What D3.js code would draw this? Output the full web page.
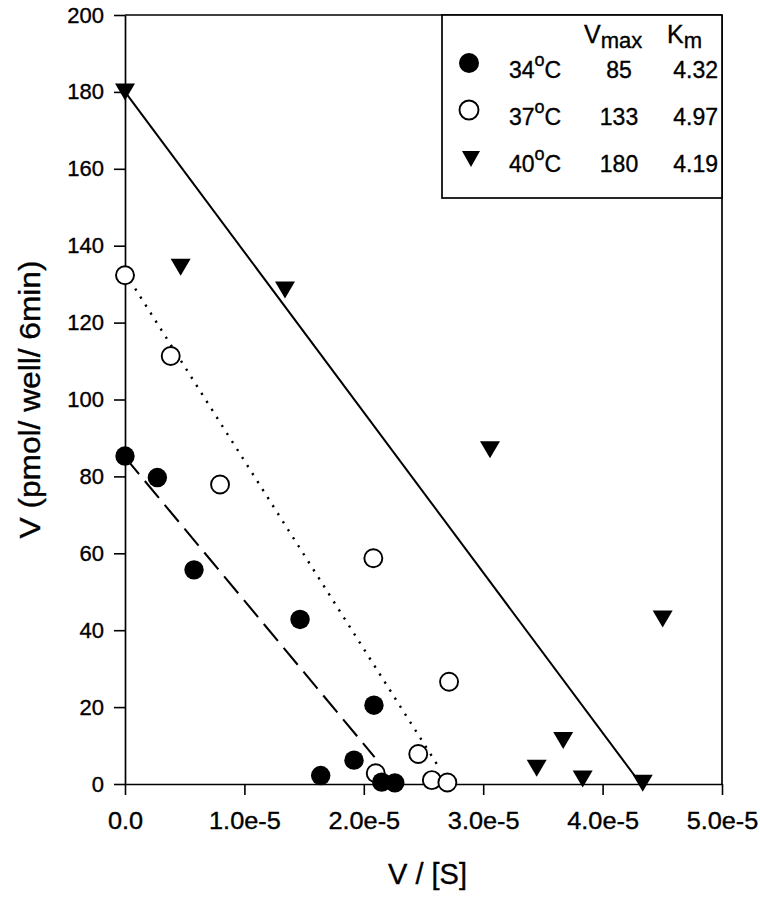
<!DOCTYPE html>
<html><head><meta charset="utf-8">
<script src="https://cdn.jsdelivr.net/npm/d3@7"></script>
<style>
body{margin:0;background:#fff}
svg{display:block;background:#fff}
text{font-family:"Liberation Sans",Arial,Helvetica,sans-serif;fill:#000;stroke:#000;stroke-width:0.35px}
</style>
</head><body>
<svg id="chart" width="760" height="899"></svg>
<script>
// ---- data ----
const xTickValues = [0, 1e-5, 2e-5, 3e-5, 4e-5, 5e-5];
const xTickLabels = ["0.0", "1.0e-5", "2.0e-5", "3.0e-5", "4.0e-5", "5.0e-5"];
const yTickValues = [0, 20, 40, 60, 80, 100, 120, 140, 160, 180, 200];

// 34 °C (filled circles)
const x34 = [0, 2.71e-6, 5.78e-6, 14.66e-6, 20.85e-6, 19.18e-6, 16.39e-6, 21.5e-6, 22.6e-6];
const v34 = [85.3, 79.7, 55.7, 42.8, 20.5, 6.2, 2.2, 0.5, 0.3];
// 37 °C (open circles)
const x37 = [0, 3.83e-6, 7.96e-6, 20.8e-6, 27.14e-6, 24.56e-6, 21.0e-6, 25.7e-6, 27.0e-6];
const v37 = [132.3, 111.3, 77.9, 58.7, 26.6, 7.8, 2.8, 1.0, 0.4];
// 40 °C (filled down triangles)
const x40 = [0, 4.66e-6, 13.4e-6, 30.57e-6, 45.03e-6, 36.7e-6, 34.48e-6, 38.33e-6, 43.36e-6];
const v40 = [180.0, 134.4, 128.5, 86.9, 42.9, 11.3, 4.1, 1.3, 0.2];

// regression lines (start / end)
const fitX34 = [0, 2.09e-5], fitV34 = [85, 7.0];
const fitX37 = [0, 2.64e-5], fitV37 = [133, 3.8];
const fitX40 = [0, 4.32e-5], fitV40 = [180, 0];

// legend
const legendTemps = ["34", "37", "40"];
const legendVmax = ["85", "133", "180"];
const legendKm = ["4.32", "4.97", "4.19"];

const xTitle = "V / [S]";
const yTitle = "V (pmol/ well/ 6min)";

// ---- chart ----
const svg = d3.select("#chart");
const L = 125, R = 722, T = 15, B = 784;
const x = d3.scaleLinear().domain([0, 5e-5]).range([L, R]);
const y = d3.scaleLinear().domain([0, 200]).range([B, T]);

// frame top & right
svg.append("line").attr("x1", L).attr("x2", R).attr("y1", T).attr("y2", T)
  .attr("stroke", "#000").attr("stroke-width", 1.7);
svg.append("line").attr("x1", R).attr("x2", R).attr("y1", T).attr("y2", B)
  .attr("stroke", "#000").attr("stroke-width", 1.7);

// axes
const xAxis = d3.axisBottom(x).tickValues(xTickValues)
  .tickFormat((d, i) => xTickLabels[i]).tickSize(11).tickSizeOuter(0).tickPadding(18);
const gx = svg.append("g").attr("transform", `translate(0,${B})`).call(xAxis);
gx.selectAll("text").attr("font-size", 23).attr("font-family", "Liberation Sans, Arial, sans-serif")
  .attr("transform", "scale(1.1,1)");

const yAxis = d3.axisLeft(y).tickValues(yTickValues).tickSize(11).tickSizeOuter(0).tickPadding(10);
const gy = svg.append("g").attr("transform", `translate(${L},0)`).call(yAxis);
gy.selectAll("text").attr("font-size", 22).attr("font-family", "Liberation Sans, Arial, sans-serif");

[gx, gy].forEach(g => {
  g.select(".domain").attr("stroke", "#000").attr("stroke-width", 1.7);
  g.selectAll(".tick line").attr("stroke", "#000").attr("stroke-width", 1.6);
  g.selectAll("text").attr("fill", "#000");
});

// axis titles
svg.append("text").attr("x", (L + R) / 2 + 4).attr("y", 884)
  .attr("text-anchor", "middle").attr("font-size", 29).text(xTitle);
svg.append("text")
  .attr("transform", `translate(40,${(T + B) / 2}) rotate(-90)`)
  .attr("text-anchor", "middle").attr("font-size", 29)
  .attr("textLength", 278).attr("lengthAdjust", "spacingAndGlyphs")
  .text(yTitle);

// fit lines
const lineGen = d3.line().x(d => x(d[0])).y(d => y(d[1]));
svg.append("path").datum(d3.zip(fitX40, fitV40)).attr("d", lineGen)
  .attr("fill", "none").attr("stroke", "#000").attr("stroke-width", 2);
svg.append("path").datum(d3.zip(fitX37, fitV37)).attr("d", lineGen)
  .attr("fill", "none").attr("stroke", "#000").attr("stroke-width", 2.4)
  .attr("stroke-dasharray", "2.2,7.3");
svg.append("path").datum(d3.zip(fitX34, fitV34)).attr("d", lineGen)
  .attr("fill", "none").attr("stroke", "#000").attr("stroke-width", 2.1)
  .attr("stroke-dasharray", "22,9");

// markers
const triPath = (w, h) => `M${-w / 2},${-h / 2}L${w / 2},${-h / 2}L0,${h / 2}Z`;

svg.append("g").selectAll("path").data(d3.zip(x40, v40)).join("path")
  .attr("transform", d => `translate(${x(d[0])},${y(d[1])})`)
  .attr("d", triPath(20, 17)).attr("fill", "#000");

svg.append("g").selectAll("circle").data(d3.zip(x37, v37)).join("circle")
  .attr("cx", d => x(d[0])).attr("cy", d => y(d[1])).attr("r", 9)
  .attr("fill", "#fff").attr("stroke", "#000").attr("stroke-width", 1.9);

svg.append("g").selectAll("circle").data(d3.zip(x34, v34)).join("circle")
  .attr("cx", d => x(d[0])).attr("cy", d => y(d[1])).attr("r", 9.7)
  .attr("fill", "#000");

// legend
const lg = svg.append("g");
lg.append("rect").attr("x", 442).attr("y", T).attr("width", R - 442).attr("height", 183)
  .attr("fill", "#fff").attr("stroke", "#000").attr("stroke-width", 1.7);

const hV = lg.append("text").attr("x", 584).attr("y", 43).attr("font-size", 25);
hV.append("tspan").text("V");
hV.append("tspan").attr("dy", 5).attr("font-size", 22).text("max");
const hK = lg.append("text").attr("x", 667).attr("y", 43).attr("font-size", 25);
hK.append("tspan").text("K");
hK.append("tspan").attr("dy", 5).attr("font-size", 22).text("m");

const rowY = i => 78 + i * 47;
legendTemps.forEach((t, i) => {
  const by = rowY(i);
  const sy = by - 15;
  if (i === 0) {
    lg.append("circle").attr("cx", 469).attr("cy", sy).attr("r", 10).attr("fill", "#000");
  } else if (i === 1) {
    lg.append("circle").attr("cx", 469).attr("cy", sy).attr("r", 9.5)
      .attr("fill", "#fff").attr("stroke", "#000").attr("stroke-width", 1.9);
  } else {
    lg.append("path").attr("transform", `translate(471,${sy + 2})`)
      .attr("d", triPath(18, 16)).attr("fill", "#000");
  }
  const tt = lg.append("text").attr("x", 509).attr("y", by).attr("font-size", 23);
  tt.append("tspan").text(t);
  tt.append("tspan").attr("dy", -12).attr("font-size", 18).text("o");
  tt.append("tspan").attr("dy", 12).text("C");
  lg.append("text").attr("x", 619).attr("y", by).attr("text-anchor", "middle")
    .attr("font-size", 23).text(legendVmax[i]);
  lg.append("text").attr("x", 718).attr("y", by).attr("text-anchor", "end")
    .attr("font-size", 23).text(legendKm[i]);
});
</script>
</body></html>
